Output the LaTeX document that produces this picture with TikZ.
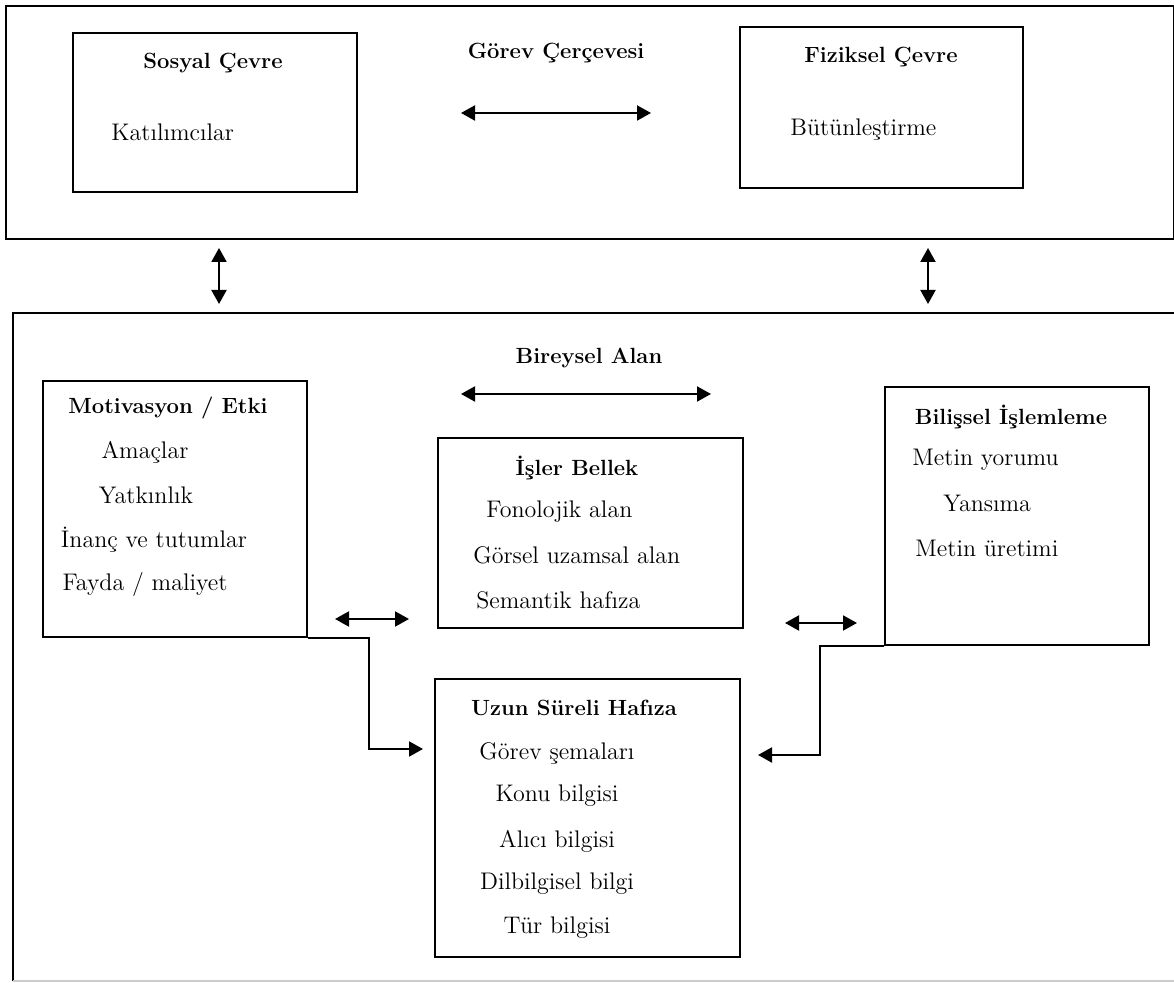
\documentclass[tikz,border=0pt]{standalone}
\usetikzlibrary{arrows.meta,positioning}

\tikzset{
  frame/.style={draw, line width=0.9pt, anchor=north west, inner sep=0pt},
  title/.style={font=\fontsize{11}{13}\selectfont\bfseries, inner sep=0pt},
  item/.style={font=\fontsize{12}{14}\selectfont, inner sep=0pt},
  tip/.style={Triangle[length=7pt,width=7.5pt]},
  dbl/.style={{Triangle[length=7pt,width=7.5pt]}-{Triangle[length=7pt,width=7.5pt]}, line width=1pt},
  elbow/.style={-{Triangle[length=7pt,width=7.5pt]}, line width=1pt}
}

\begin{document}
\begin{tikzpicture}[x=0.5pt,y=-0.5pt]
\useasboundingbox (0,0) rectangle (1174,983);

% task environment
\node[frame, minimum width=584pt, minimum height=116.5pt] (task) at (5,5) {};
\node[frame, minimum width=142pt, minimum height=79.5pt] (social) at (72,32) {};
\node[frame, minimum width=141.5pt, minimum height=80.5pt] (physical) at (739,26) {};
\node[title] (socialT) at (213,63) {Sosyal Çevre};
\node[item, anchor=west] (socialA) at (111,132) {Katılımcılar};
\node[title] (taskT) at (556,53) {Görev Çerçevesi};
\node[title] (physicalT) at (881,57) {Fiziksel Çevre};
\node[item, anchor=west] (physicalA) at (790,130) {Bütünleştirme};
\coordinate (taskL) at (461,113);
\coordinate (taskR) at (651,113);
\draw[dbl] (taskL) -- (taskR);

% links between the two levels
\coordinate (linkAu) at (219,248);
\coordinate (linkAd) at (219,304);
\coordinate (linkBu) at (928,248);
\coordinate (linkBd) at (928,304);
\draw[dbl] (linkAu) -- (linkAd);
\draw[dbl] (linkBu) -- (linkBd);

% individual domain
\coordinate (indNE) at (1174,313);
\coordinate (indNW) at (13,313);
\coordinate (indSW) at (13,981);
\coordinate (indSE) at (1174,981);
\draw[line width=0.9pt] (indNE) -- (indNW) -- (indSW);
\draw[line width=0.9pt, black!20] (indSW) -- (indSE);
\node[title] (indT) at (589,358) {Bireysel Alan};
\coordinate (indL) at (461,394);
\coordinate (indR) at (711,394);
\draw[dbl] (indL) -- (indR);

\node[frame, minimum width=132pt, minimum height=128pt] (mot) at (42,380) {};
\node[title] (motT) at (168,408) {Motivasyon / Etki};
\node[item] (motA) at (145,452) {Amaçlar};
\node[item] (motB) at (146,495) {Yatkınlık};
\node[item] (motC) at (154,540) {İnanç ve tutumlar};
\node[item] (motD) at (145,585) {Fayda / maliyet};

\node[frame, minimum width=152.5pt, minimum height=95pt] (wm) at (437,437) {};
\node[title] (wmT) at (577,468) {İşler Bellek};
\node[item, anchor=west] (wmA) at (486,512) {Fonolojik alan};
\node[item, anchor=west] (wmB) at (473,555) {Görsel uzamsal alan};
\node[item, anchor=west] (wmC) at (476,600) {Semantik hafıza};

\node[frame, minimum width=132pt, minimum height=129pt] (cog) at (884,386) {};
\node[title] (cogT) at (1011,417) {Bilişsel İşlemleme};
\node[item, anchor=west] (cogA) at (912,460) {Metin yorumu};
\node[item, anchor=west] (cogB) at (943,503) {Yansıma};
\node[item, anchor=west] (cogC) at (915,548) {Metin üretimi};

\node[frame, minimum width=152.5pt, minimum height=139pt] (ltm) at (434,678) {};
\node[title] (ltmT) at (574,708) {Uzun Süreli Hafıza};
\node[item] (ltmA) at (557,753) {Görev şemaları};
\node[item] (ltmB) at (557,796) {Konu bilgisi};
\node[item] (ltmC) at (557,841) {Alıcı bilgisi};
\node[item] (ltmD) at (557,884) {Dilbilgisel bilgi};
\node[item] (ltmE) at (557,928) {Tür bilgisi};

% connectors
\coordinate (motwmL) at (335,619);
\coordinate (motwmR) at (409,619);
\draw[dbl] (motwmL) -- (motwmR);
\coordinate (wmcogL) at (785,623);
\coordinate (wmcogR) at (857,623);
\draw[dbl] (wmcogL) -- (wmcogR);
\coordinate (ltmIn) at (423,749);
\coordinate (ltmOut) at (758,755);
\draw[elbow] (mot.south east) -- ++(61,0) |- (ltmIn);
\draw[elbow] (cog.south west) -- ++(-64,0) |- (ltmOut);
\end{tikzpicture}
\end{document}
